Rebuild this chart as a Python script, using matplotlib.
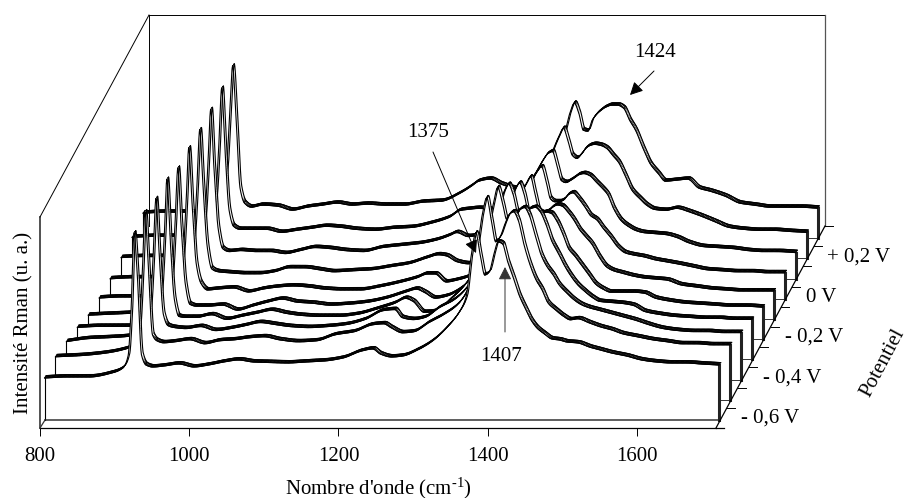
import matplotlib
matplotlib.use("Agg")
import matplotlib.pyplot as plt
from matplotlib.collections import PolyCollection
from matplotlib.lines import Line2D
from matplotlib.patches import Polygon
from matplotlib.path import Path
from matplotlib.transforms import Affine2D, IdentityTransform
import numpy as np

plt.rcParams['font.family'] = ['Liberation Serif', 'DejaVu Serif']
plt.rcParams['mathtext.fontset'] = 'custom'
plt.rcParams['mathtext.rm'] = 'Liberation Serif'
plt.rcParams['mathtext.it'] = 'Liberation Serif'
plt.rcParams['mathtext.bf'] = 'Liberation Serif'

W, H = 906, 498

wavenumber = [800, 830, 860, 890, 905, 912, 916, 920, 924, 930, 936, 945,
              960, 980, 1000, 1020, 1040, 1060, 1080, 1100, 1125, 1150,
              1175, 1200, 1225, 1240, 1250, 1265, 1280, 1300, 1320, 1340,
              1355, 1365, 1372, 1378, 1384, 1390, 1396, 1402, 1408, 1414,
              1420, 1428, 1436, 1444, 1452, 1460, 1470, 1480, 1490, 1500,
              1515, 1530, 1545, 1560, 1580, 1600, 1620, 1640, 1660, 1680, 1704]

s0 = [42, 43, 43, 47, 52, 64, 110, 187, 150, 65, 55, 53,
      54, 56, 53, 55, 58, 60, 58, 57.5, 57, 58,
      59, 62, 69, 71, 66, 63, 64, 70, 79, 93,
      107, 123, 165, 187, 165, 145, 148, 165, 178, 176,
      160, 143, 125, 112, 100, 92, 86, 81, 80, 78,
      77, 73, 70, 67, 64, 60, 58, 57, 57, 56, 55]
s1 = [43, 44, 46, 50, 55, 70, 120, 188, 140, 65, 59, 57,
      58, 60, 56, 59, 60, 62, 63, 60, 58, 59,
      65, 68, 75, 76, 72, 67, 68, 77, 85, 96,
      115, 150, 185, 202, 180, 158, 163, 175, 185, 188,
      180, 155, 135, 120, 110, 97, 90, 84, 80, 81,
      77, 73, 70, 66, 63, 60, 58, 56, 56, 55, 55]
s2 = [38, 41, 42, 44, 50, 70, 120, 181, 130, 65, 54, 52,
      51, 53, 49, 51, 54, 57, 55, 53, 52, 53,
      55, 60, 69, 70, 62, 60, 62, 72, 80, 95,
      115, 150, 175, 192, 178, 160, 158, 163, 170, 172,
      165, 145, 125, 113, 105, 95, 87, 80, 75, 72,
      69, 66, 63, 60, 55, 51, 49, 48, 48, 47, 47]
s3 = [32, 33, 33, 34, 38, 65, 115, 180, 125, 60, 43, 42,
      42, 44.6, 40, 43, 46, 49, 46, 44, 43, 43,
      45, 50, 56, 61, 58, 47, 48, 60, 75, 100,
      125, 150, 168, 175, 165, 148, 147, 148, 151, 152,
      148, 135, 118, 107, 95, 85, 75, 68, 62, 58,
      57, 56, 54, 48, 45, 43, 42, 41, 41, 40, 40]
s4 = [24, 25, 26, 28, 32, 62, 112, 171, 118, 55, 35, 33,
      33, 34, 29, 33, 37, 40, 37, 36, 34, 35,
      37, 41, 47, 50, 47, 41, 43, 51, 67, 89,
      110, 135, 150, 156, 145, 127, 125, 125, 126, 127,
      126, 118, 105, 90, 83, 75, 65, 55, 50, 47,
      47, 47, 46, 41, 38, 36, 35, 34, 33, 33, 32]
s5 = [21, 22, 22, 23, 28, 60, 110, 171, 120, 55, 36, 29,
      30, 31, 27, 30, 32, 33, 32, 30, 29, 29,
      32, 36, 41, 45, 45, 37, 39, 44, 57, 79,
      105, 125, 135, 142, 125, 108, 106, 108, 112, 114,
      113, 107, 99, 89, 82, 75, 62, 52, 48, 46,
      43, 41, 40, 39, 34, 32, 30, 29, 28, 28, 28]
s6 = [20, 21, 21, 22, 26, 60, 110, 169, 118, 52, 30, 27,
      26, 25, 25, 27, 31, 31, 29, 27, 28, 29,
      32, 35, 41, 44, 43, 37, 35, 41, 54, 74,
      100, 118, 127, 132, 118, 100, 97, 97, 99, 104,
      106, 100, 92, 83, 79, 71, 62, 52, 46, 44,
      42, 39, 37, 35, 32, 29, 28, 27, 27, 26, 26]
s7 = [21, 22, 22, 23, 27, 60, 110, 169, 115, 50, 30, 27,
      28, 27, 27, 25, 28, 31, 30, 28, 27, 31,
      33, 35, 39, 43, 46, 42, 44, 54, 69, 89,
      105, 118, 125, 127, 113, 98, 96, 98, 101, 104,
      105, 103, 97, 91, 84, 70, 58, 52, 48, 46,
      45, 44, 41, 36, 32, 31, 30, 28, 27, 27, 26]
s8 = [21, 22, 22, 24, 28, 60, 110, 170, 115, 48, 32, 29,
      29, 29, 26, 28, 30, 32, 31, 29, 28, 30,
      31, 35, 41, 48, 49, 50, 49, 47, 52, 68,
      88, 110, 122, 130, 118, 103, 100, 104, 110, 113,
      114, 113, 110, 103, 96, 84, 68, 60, 53, 49,
      48, 50, 47, 43, 37, 31, 29, 28, 28, 27, 26]
s9 = [25, 26, 26, 28, 34, 70, 125, 172, 130, 50, 35, 31,
      33, 32, 28, 31, 33, 35, 33, 34, 33, 33,
      36, 37, 45, 52, 57, 59, 54, 50, 52, 65,
      85, 105, 125, 135, 125, 108, 107, 118, 124, 128,
      131, 133, 133, 130, 118, 108, 90, 74, 65, 57,
      58, 59, 50, 47, 42, 35, 33, 31, 31, 31, 30]
series = [s0, s1, s2, s3, s4, s5, s6, s7, s8, s9]

x_ticks = [800, 1000, 1200, 1400, 1600]
depth_labels = ['- 0,6 V', '- 0,4 V', '- 0,2 V', '0 V', '+ 0,2 V']
depth_label_pos = [(770, 418), (792, 378), (814, 337), (821, 297), (859, 257)]
peak_labels = ['1375', '1407', '1424']

FS = 15
fig = plt.figure(figsize=(W / 100, H / 100), dpi=100)
L, R, B, T = 40, 716, 428, 217
ax = fig.add_axes([L / W, (H - B) / H, (R - L) / W, (B - T) / H])
ax.set_xlim(800, 1706)
ax.set_ylim(0, 211)
ax.patch.set_visible(False)
for s in ['top', 'right']:
    ax.spines[s].set_visible(False)
ax.spines['left'].set_linewidth(1.2)
ax.spines['left'].set_color('#333333')
ax.spines['bottom'].set_linewidth(0.9)
ax.set_yticks([])
ax.set_xticks(x_ticks)
ax.tick_params(axis='x', length=5.8, width=0.7, pad=8, labelsize=FS)
ax.set_ylabel('Intensité Rman (u. a.)', fontsize=FS)
ax.yaxis.set_label_coords(-0.009, 0.5)
ax.set_xlabel("Nombre d'onde (cm$^{\\text{-1}}$)", fontsize=FS)
ax.xaxis.set_label_coords((378 - L) / (R - L), -0.228)

ident = IdentityTransform()


def seg(xs, ys, **kw):
    kw.setdefault('color', 'black')
    kw.setdefault('lw', 0.7)
    fig.add_artist(Line2D(xs, [H - y for y in ys], transform=ident, **kw))


# walls and floor
seg([40, 149], [217, 15])
seg([149, 825], [15, 15])
seg([149, 149], [15, 226])
seg([825, 825], [15, 226], color='#555555', lw=0.9)
seg([716, 825], [428, 226], lw=0.9)
seg([716, 724], [428, 428], lw=0.9)
seg([40, 45], [428, 420], color='#333333', lw=0.9)
for k in range(1, 11):
    yt = 428 - 20.2 * k
    xt = 716 + (428 - yt) * (109 / 202)
    seg([xt, xt + 8], [yt, yt])


def smooth_curve(pts):
    """Display-space polyline of a monotone cubic Bezier path through pts."""
    px, py = pts[:, 0], pts[:, 1]
    h = np.diff(px)
    sec = np.diff(py) / h
    m = np.zeros_like(py)
    for j in range(1, len(px) - 1):
        if sec[j - 1] * sec[j] > 0:
            w1, w2 = 2 * h[j] + h[j - 1], h[j] + 2 * h[j - 1]
            m[j] = (w1 + w2) / (w1 / sec[j - 1] + w2 / sec[j])
    m[0], m[-1] = sec[0], sec[-1]
    verts = [pts[0]]
    codes = [Path.MOVETO]
    for j in range(len(px) - 1):
        verts += [(px[j] + h[j] / 3, py[j] + m[j] * h[j] / 3),
                  (px[j + 1] - h[j] / 3, py[j + 1] - m[j + 1] * h[j] / 3),
                  pts[j + 1]]
        codes += [Path.CURVE4] * 3
    out = [pts[:1]]
    for bez, code in Path(verts, codes).iter_bezier():
        if code == Path.MOVETO:
            continue
        chord = np.hypot(*(bez.control_points[-1] - bez.control_points[0]))
        n = max(2, int(np.ceil(chord / 1.35)) + 1)
        out.append(bez(np.linspace(0, 1, n))[1:])
    return np.vstack(out)


# series, back to front
x = np.array(wavenumber, dtype=float)
DX, DY = 10.95, 20.2
RIB = np.array([1.7, 2.4])
for i in reversed(range(len(series))):
    y = np.array(series[i], dtype=float)
    tr = ax.transData + Affine2D().translate(4.5 + DX * i, 8 + DY * i)
    front = smooth_curve(tr.transform(np.column_stack([x, y])))
    base = tr.transform(np.column_stack([x[[-1, 0]], [0, 0]]))
    z = 20 - i
    ax.add_patch(Polygon(np.vstack([front, base]), closed=True, transform=ident,
                         facecolor='white', edgecolor='none', zorder=z, clip_on=False))
    ax.add_line(Line2D(base[:, 0], base[:, 1], transform=ident, color='#333333',
                       lw=1.1 if i == 0 else 0.7, zorder=z + 0.1, clip_on=False))
    ax.add_line(Line2D([front[0, 0]] * 2, [base[1, 1], front[0, 1]], transform=ident,
                       color='black', lw=0.8, zorder=z + 0.1, clip_on=False))
    ax.add_line(Line2D([front[-1, 0]] * 2, [base[0, 1], front[-1, 1]], transform=ident,
                       color='#222222', lw=2.2, zorder=z + 0.1, clip_on=False))
    back = front + RIB
    quads = [np.array([front[j], front[j + 1], back[j + 1], back[j]])
             for j in range(len(front) - 1)]
    d = np.diff(front, axis=0)
    slope = np.abs(d[:, 1]) / np.maximum(np.abs(d[:, 0]), 1e-6)
    widths = np.clip(0.75 - 0.22 * slope, 0.0, 0.75)
    coll = PolyCollection(quads, facecolors='white', edgecolors='black', linewidths=widths,
                          transform=ident, zorder=z + 0.2, clip_on=False)
    ax.add_collection(coll, autolim=False)
    for edge in (front, back):
        ax.add_line(Line2D(edge[:, 0], edge[:, 1], transform=ident, color='black',
                           lw=0.8, zorder=z + 0.3, clip_on=False))


def txt(x0, y0, s, **kw):
    fig.text(x0, H - y0, s, transform=ident, fontsize=kw.pop('fontsize', FS),
             ha=kw.pop('ha', 'center'), va=kw.pop('va', 'center'), **kw)


for lab, (px, py) in zip(depth_labels, depth_label_pos):
    txt(px, py, lab)
txt(883, 363, 'Potentiel', rotation=62)

txt(428, 132, peak_labels[0])
txt(501, 356, peak_labels[1])
txt(655, 52, peak_labels[2])


def arrow(x0, y0, x1, y1, color='black'):
    ax.annotate('', xy=(x1, H - y1), xytext=(x0, H - y0),
                xycoords='figure pixels', textcoords='figure pixels',
                arrowprops=dict(arrowstyle='-|>,head_length=0.55,head_width=0.28',
                                mutation_scale=14, lw=0.7, color=color,
                                shrinkA=0, shrinkB=0),
                zorder=30, annotation_clip=False)


arrow(433, 152, 476, 253)
arrow(505, 332, 505, 267, color='#333333')
arrow(654, 71, 630, 95)

fig.savefig('out.png', dpi=100)
